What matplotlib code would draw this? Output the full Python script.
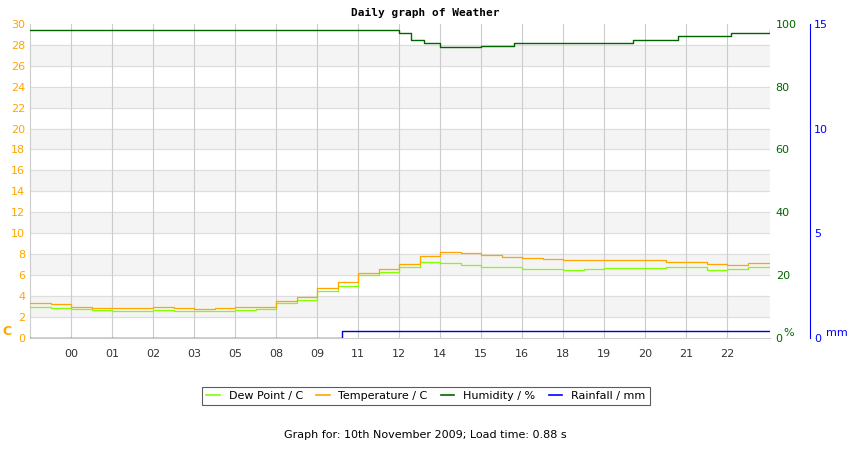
import matplotlib
matplotlib.use("Agg")
import matplotlib.pyplot as plt
from matplotlib.lines import Line2D

x = [0,0.5,1,1.5,2,2.5,3,3.5,4,4.5,5,5.5,6,6.5,7,7.5,8,8.5,9,9.5,10,10.5,11,11.5,12,12.5,13,13.5,14,14.5,15,15.5,16,16.5,17,17.5,18.05]
temp = [3.3,3.2,3.0,2.9,2.9,2.9,3.0,2.9,2.8,2.9,3.0,3.0,
        3.5,3.9,4.8,5.3,6.2,6.6,7.1,7.8,8.2,
        8.1,7.9,7.7,7.6,7.5,
        7.4,7.4,7.4,7.4,7.4,
        7.3,7.3,7.1,7.0,7.2,7.3]
dew = [3.0,2.9,2.8,2.7,2.6,2.6,2.7,2.6,2.6,2.6,2.7,2.8,
       3.3,3.6,4.5,5.0,6.0,6.3,6.8,7.3,7.2,
       7.0,6.8,6.8,6.6,6.6,
       6.5,6.6,6.7,6.7,6.7,
       6.8,6.8,6.5,6.6,6.8,7.0]
hx = [0,9.0,9.3,9.6,10.0,11.0,11.8,13.0,14.7,15.8,17.1,18.05]
hum = [98,97,95,94,92.5,93,94,94,95,96,97,98]
rx = [0,7.6,18.05]
rain = [0,0.33,0.33]
xticks = [1,2,3,4,5,6,7,8,9,10,11,12,13,14,15,16,17]
xlabels = ["00","01","02","03","05","08","09","11","12","14","15","16","18","19","20","21","22"]

fig = plt.figure(figsize=(8.5,4.5), dpi=100)
ax = fig.add_axes([0.0353,0.249,0.8707,0.698])
orange = "#FFA500"; green = "#006400"; lime = "#7FFF00"; blue = "#0000CC"
for lo in range(2,30,4):
    ax.axhspan(lo, lo+2, color="#F4F4F4", zorder=0)
for yv in range(2,30,2):
    ax.axhline(yv, color="#DDDDDD", lw=0.8, zorder=0.5)
for xv in xticks:
    ax.axvline(xv, color="#CCCCCC", lw=0.8, zorder=0.5)
ax.set_xlim(0,18.05); ax.set_ylim(0,30)
ax.set_yticks(range(0,31,2))
ax.tick_params(axis='y', colors=orange, labelsize=8, length=0)
ax.set_xticks(xticks); ax.set_xticklabels(xlabels)
ax.tick_params(axis='x', colors="#333333", labelsize=8, length=0, pad=8)
for s in ax.spines.values(): s.set_visible(False)
ax.spines['left'].set_visible(True); ax.spines['left'].set_color("#CCCCCC")
ax.spines['bottom'].set_visible(True); ax.spines['bottom'].set_color("#CCCCCC")
ax.plot(x, dew, drawstyle="steps-post", color=lime, lw=0.9, zorder=3)
ax.plot(x, temp, drawstyle="steps-post", color=orange, lw=0.9, zorder=3)
fig.text(0.003, 0.249, "C", color=orange, fontsize=9, va="bottom", fontweight="bold")

ax2 = ax.twinx()
ax2.set_ylim(0,100); ax2.set_yticks(range(0,101,20))
ax2.tick_params(axis='y', colors=green, labelsize=8, length=0, pad=4)
for s in ax2.spines.values(): s.set_visible(False)
ax2.plot(hx, hum, drawstyle="steps-post", color=green, lw=1, zorder=3)
fig.text(0.922, 0.249, "%", color=green, fontsize=8, va="bottom")

ax3 = ax.twinx()
ax3.spines['right'].set_position(('axes', 1.054))
for k in ['top','left','bottom']: ax3.spines[k].set_visible(False)
ax3.spines['right'].set_color("blue")
ax3.set_ylim(0,15); ax3.set_yticks([0,5,10,15])
ax3.tick_params(axis='y', colors="blue", labelsize=8, length=0, pad=3)
ax3.plot(rx, rain, drawstyle="steps-post", color=blue, lw=1, zorder=3)
fig.text(0.972, 0.249, "mm", color="blue", fontsize=8, va="bottom")

fig.text(0.5, 0.965, "Daily graph of Weather", ha="center", fontsize=8, fontweight="bold", family="DejaVu Sans Mono")
handles = [Line2D([],[],color=lime,lw=1.2), Line2D([],[],color=orange,lw=1.2),
           Line2D([],[],color=green,lw=1.2), Line2D([],[],color="blue",lw=1.2)]
leg = fig.legend(handles, ["Dew Point / C","Temperature / C","Humidity / %","Rainfall / mm"],
           loc="center", bbox_to_anchor=(0.501,0.12), ncol=4, fontsize=8, fancybox=False,
           edgecolor="#333333", handlelength=1.2, columnspacing=1.2, borderpad=0.4)
leg.get_frame().set_linewidth(0.8)
fig.text(0.5, 0.027, "Graph for: 10th November 2009; Load time: 0.88 s", ha="center", fontsize=8)
fig.savefig("out.png")
